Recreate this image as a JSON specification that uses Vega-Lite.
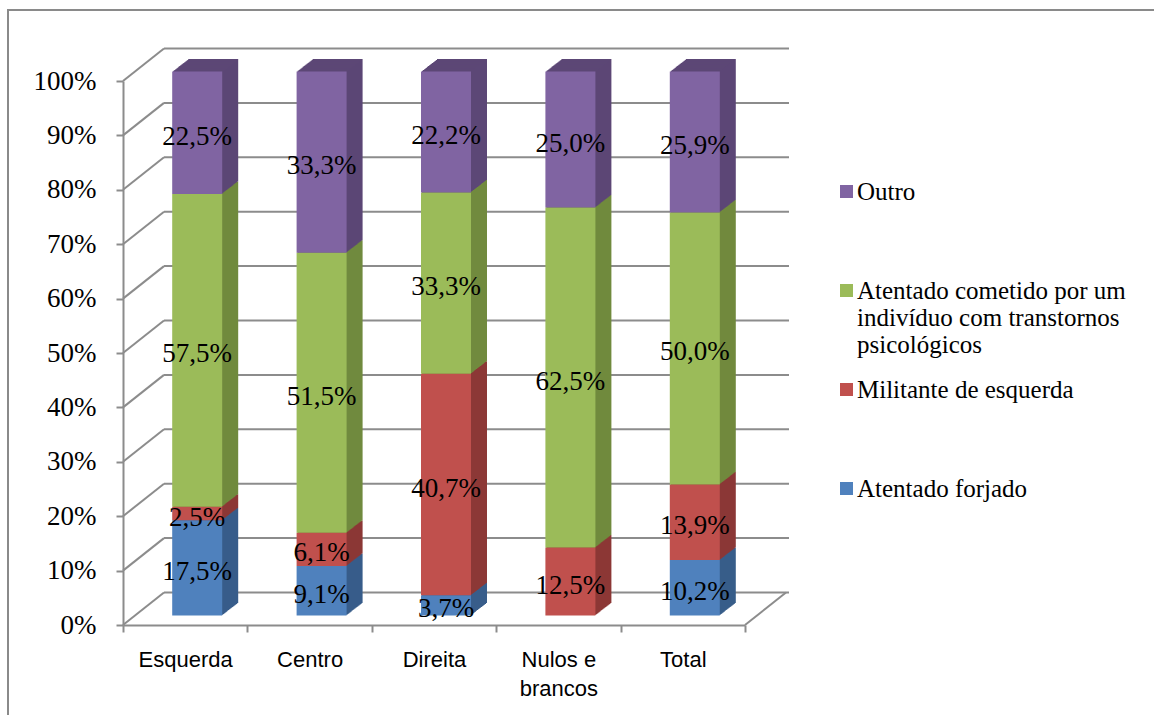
{
  "$schema": "https://vega.github.io/schema/vega-lite/v6.json",
  "autosize": "none",
  "padding": {"left": 8, "top": 10, "right": -2, "bottom": -2},
  "width": 1148,
  "height": 707,
  "background": "white",
  "config": {
    "view": {"stroke": "#8a8a8a", "strokeWidth": 2}
  },
  "datasets": {
    "respostas": [
      {"categoria": "Esquerda", "serie": "Atentado forjado", "ordem": 1, "valor": 17.5},
      {"categoria": "Esquerda", "serie": "Militante de esquerda", "ordem": 2, "valor": 2.5},
      {"categoria": "Esquerda", "serie": "Atentado cometido por um indivíduo com transtornos psicológicos", "ordem": 3, "valor": 57.5},
      {"categoria": "Esquerda", "serie": "Outro", "ordem": 4, "valor": 22.5},
      {"categoria": "Centro", "serie": "Atentado forjado", "ordem": 1, "valor": 9.1},
      {"categoria": "Centro", "serie": "Militante de esquerda", "ordem": 2, "valor": 6.1},
      {"categoria": "Centro", "serie": "Atentado cometido por um indivíduo com transtornos psicológicos", "ordem": 3, "valor": 51.5},
      {"categoria": "Centro", "serie": "Outro", "ordem": 4, "valor": 33.3},
      {"categoria": "Direita", "serie": "Atentado forjado", "ordem": 1, "valor": 3.7},
      {"categoria": "Direita", "serie": "Militante de esquerda", "ordem": 2, "valor": 40.7},
      {"categoria": "Direita", "serie": "Atentado cometido por um indivíduo com transtornos psicológicos", "ordem": 3, "valor": 33.3},
      {"categoria": "Direita", "serie": "Outro", "ordem": 4, "valor": 22.2},
      {"categoria": "Nulos e brancos", "serie": "Militante de esquerda", "ordem": 2, "valor": 12.5},
      {"categoria": "Nulos e brancos", "serie": "Atentado cometido por um indivíduo com transtornos psicológicos", "ordem": 3, "valor": 62.5},
      {"categoria": "Nulos e brancos", "serie": "Outro", "ordem": 4, "valor": 25.0},
      {"categoria": "Total", "serie": "Atentado forjado", "ordem": 1, "valor": 10.2},
      {"categoria": "Total", "serie": "Militante de esquerda", "ordem": 2, "valor": 13.9},
      {"categoria": "Total", "serie": "Atentado cometido por um indivíduo com transtornos psicológicos", "ordem": 3, "valor": 50.0},
      {"categoria": "Total", "serie": "Outro", "ordem": 4, "valor": 25.9}
    ],
    "grade": [
      {"v": 0}, {"v": 0.1}, {"v": 0.2}, {"v": 0.3}, {"v": 0.4}, {"v": 0.5},
      {"v": 0.6}, {"v": 0.7}, {"v": 0.8}, {"v": 0.9}, {"v": 1}
    ]
  },
  "layer": [
    {
      "data": {"name": "grade"},
      "mark": {"type": "rule", "color": "#8c8c8c", "strokeWidth": 2, "xOffset": 41, "x2Offset": 44, "yOffset": -32.5},
      "encoding": {
        "x": {"datum": "Esquerda", "type": "nominal", "bandPosition": 0},
        "x2": {"datum": "Total", "bandPosition": 1},
        "y": {"field": "v", "type": "quantitative"}
      }
    },
    {
      "data": {"name": "grade"},
      "mark": {"type": "rule", "color": "#8c8c8c", "strokeWidth": 2, "x2Offset": 41, "y2Offset": -32.5},
      "encoding": {
        "x": {"datum": "Esquerda", "type": "nominal", "bandPosition": 0},
        "x2": {"datum": "Esquerda", "bandPosition": 0},
        "y": {"field": "v", "type": "quantitative"},
        "y2": {"field": "v"}
      }
    },
    {
      "data": {"name": "grade"},
      "transform": [{"filter": "datum.v == 0"}],
      "mark": {"type": "rule", "color": "#8c8c8c", "strokeWidth": 2, "x2Offset": 41, "y2Offset": -32.5},
      "encoding": {
        "x": {"datum": "Total", "type": "nominal", "bandPosition": 1},
        "x2": {"datum": "Total", "bandPosition": 1},
        "y": {"field": "v", "type": "quantitative"},
        "y2": {"field": "v"}
      }
    },
    {
      "data": {"name": "respostas"},
      "transform": [
        {"stack": "valor", "groupby": ["categoria"], "sort": [{"field": "ordem", "order": "ascending"}], "offset": "normalize", "as": ["y0", "y1"]},
        {"calculate": "(datum.y0 + datum.y1) / 2", "as": "meio"},
        {"calculate": "replace(format(datum.valor, '.1f'), '.', ',') + '%'", "as": "rotulo"}
      ],
      "encoding": {
        "x": {
          "field": "categoria",
          "type": "nominal",
          "scale": {
            "type": "band",
            "domain": ["Esquerda", "Centro", "Direita", "Nulos e brancos", "Total"],
            "range": [115, 737],
            "paddingInner": 0,
            "paddingOuter": 0
          },
          "axis": {
            "title": null,
            "orient": "bottom",
            "offset": -92,
            "tickBand": "extent",
            "labelAngle": 0,
            "labelAlign": "center",
            "labelFont": "Liberation Sans",
            "labelFontSize": 22,
            "labelColor": "#000000",
            "labelPadding": 27,
            "labelLineHeight": 29,
            "labelExpr": "datum.label == 'Nulos e brancos' ? ['Nulos e', 'brancos'] : datum.label",
            "domainColor": "#8c8c8c",
            "domainWidth": 2,
            "tickColor": "#8c8c8c",
            "tickWidth": 2,
            "tickSize": 7,
            "grid": false
          }
        },
        "y": {
          "field": "y0",
          "type": "quantitative",
          "scale": {"domain": [0, 1], "range": [615, 71], "nice": false, "zero": false},
          "axis": {
            "title": null,
            "orient": "left",
            "offset": -115,
            "values": [0, 0.1, 0.2, 0.3, 0.4, 0.5, 0.6, 0.7, 0.8, 0.9, 1],
            "format": ".0%",
            "labelFont": "Liberation Serif",
            "labelFontSize": 27,
            "labelColor": "#000000",
            "labelPadding": 20,
            "domainColor": "#8c8c8c",
            "domainWidth": 2,
            "tickColor": "#8c8c8c",
            "tickWidth": 2,
            "tickSize": 7,
            "grid": false
          }
        }
      },
      "layer": [
        {
          "encoding": {
            "y2": {"field": "y1"},
            "fill": {
              "field": "serie",
              "type": "nominal",
              "scale": {
                "domain": ["Atentado forjado", "Militante de esquerda", "Atentado cometido por um indivíduo com transtornos psicológicos", "Outro"],
                "range": ["#385d8a", "#8c3836", "#718a3e", "#5c4776"]
              },
              "legend": null
            }
          },
          "layer": [
            {"mark": {"type": "bar", "width": 50, "xOffset": 28, "yOffset": -21.9, "y2Offset": -21.9}},
            {"mark": {"type": "bar", "width": 50, "xOffset": 27, "yOffset": -21.125, "y2Offset": -21.125}},
            {"mark": {"type": "bar", "width": 50, "xOffset": 26, "yOffset": -20.35, "y2Offset": -20.35}},
            {"mark": {"type": "bar", "width": 50, "xOffset": 25, "yOffset": -19.575, "y2Offset": -19.575}},
            {"mark": {"type": "bar", "width": 50, "xOffset": 24, "yOffset": -18.8, "y2Offset": -18.8}},
            {"mark": {"type": "bar", "width": 50, "xOffset": 23, "yOffset": -18.025, "y2Offset": -18.025}},
            {"mark": {"type": "bar", "width": 50, "xOffset": 22, "yOffset": -17.25, "y2Offset": -17.25}},
            {"mark": {"type": "bar", "width": 50, "xOffset": 21, "yOffset": -16.475, "y2Offset": -16.475}},
            {"mark": {"type": "bar", "width": 50, "xOffset": 20, "yOffset": -15.7, "y2Offset": -15.7}},
            {"mark": {"type": "bar", "width": 50, "xOffset": 19, "yOffset": -14.925, "y2Offset": -14.925}},
            {"mark": {"type": "bar", "width": 50, "xOffset": 18, "yOffset": -14.15, "y2Offset": -14.15}},
            {"mark": {"type": "bar", "width": 50, "xOffset": 17, "yOffset": -13.375, "y2Offset": -13.375}},
            {"mark": {"type": "bar", "width": 50, "xOffset": 16, "yOffset": -12.6, "y2Offset": -12.6}},
            {"mark": {"type": "bar", "width": 50, "xOffset": 15, "yOffset": -11.825, "y2Offset": -11.825}},
            {"mark": {"type": "bar", "width": 50, "xOffset": 14, "yOffset": -11.05, "y2Offset": -11.05}},
            {"mark": {"type": "bar", "width": 50, "xOffset": 13, "yOffset": -10.275, "y2Offset": -10.275}}
          ]
        },
        {
          "mark": {"type": "bar", "width": 50, "xOffset": 12, "yOffset": -9.5, "y2Offset": -9.5},
          "encoding": {
            "y2": {"field": "y1"},
            "color": {
              "field": "serie",
              "type": "nominal",
              "scale": {
                "domain": ["Outro", "Atentado cometido por um indivíduo com transtornos psicológicos", "Militante de esquerda", "Atentado forjado"],
                "range": ["#8064a2", "#9bbb59", "#c0504d", "#4f81bd"]
              },
              "legend": {
                "title": null,
                "orient": "none",
                "legendX": 826,
                "legendY": 169,
                "padding": 0,
                "symbolType": "square",
                "symbolSize": 169,
                "symbolStrokeWidth": 0,
                "labelFont": "Liberation Serif",
                "labelFontSize": 25,
                "labelColor": "#000000",
                "labelOffset": -2,
                "labelLimit": 400,
                "rowPadding": 19,
                "labelExpr": "datum.label == 'Atentado cometido por um indivíduo com transtornos psicológicos' ? ['Atentado cometido por um', 'indivíduo com transtornos', 'psicológicos'] : [datum.label, '', '']"
              }
            }
          }
        },
        {
          "mark": {"type": "text", "font": "Liberation Serif", "fontSize": 27, "color": "#000000", "align": "center", "baseline": "middle", "xOffset": 12, "yOffset": -5.5},
          "encoding": {
            "y": {"field": "meio", "type": "quantitative"},
            "text": {"field": "rotulo"}
          }
        }
      ]
    }
  ]
}
